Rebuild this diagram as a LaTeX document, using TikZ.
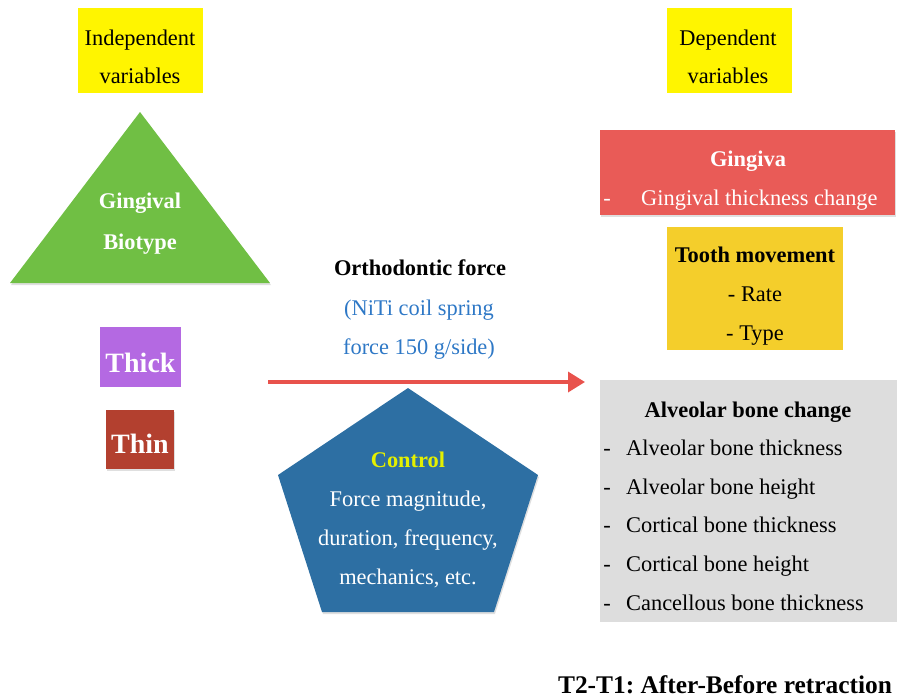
\documentclass[tikz,border=0pt]{standalone}
\usepackage{fontspec}
\setmainfont{Liberation Serif}
\usetikzlibrary{arrows.meta,shadows}
\frenchspacing
\definecolor{ybox}{HTML}{FFF500}
\definecolor{gtri}{HTML}{70BF44}
\definecolor{pthick}{HTML}{B469E2}
\definecolor{rthin}{HTML}{B3402F}
\definecolor{bluetxt}{HTML}{2E78C6}
\definecolor{redarrow}{HTML}{E8524C}
\definecolor{pent}{HTML}{2D6FA3}
\definecolor{ctrl}{HTML}{E4F000}
\definecolor{ging}{HTML}{E95B57}
\definecolor{tooth}{HTML}{F4CE2B}
\definecolor{greybox}{HTML}{DDDDDD}
\tikzset{
  txt/.style={inner sep=0pt, anchor=base, font=\fontsize{22.4}{22.4}\selectfont},
  btxt/.style={txt, font=\fontsize{22.4}{22.4}\selectfont\bfseries},
  ltxt/.style={txt, anchor=base west},
  boxr/.style={draw=none, inner sep=0pt, anchor=north west},
  shad/.style={drop shadow={opacity=0.25, shadow xshift=1pt, shadow yshift=-2pt}},
}
\begin{document}
\begin{tikzpicture}[x=1pt,y=-1pt]
\useasboundingbox (0,0) rectangle (898,697);
% boxes
\node[boxr, fill=ybox, minimum width=125pt, minimum height=85pt] (indepbox) at (78,8) {};
\node[boxr, fill=ybox, minimum width=125pt, minimum height=85pt] (depbox) at (667,8) {};
\fill[gtri, shad] (140,112) -- (270,283) -- (10,283) -- cycle;
\node[boxr, fill=pthick, minimum width=81pt, minimum height=60pt] (thickbox) at (100,327) {};
\node[boxr, fill=rthin, shad, minimum width=68pt, minimum height=59pt] (thinbox) at (106,410) {};
\fill[pent, shad] (408,388) -- (538,475) -- (494,612) -- (322,612) -- (278,475) -- cycle;
\node[boxr, fill=ging, shad, minimum width=295pt, minimum height=85pt] (gingbox) at (600,130) {};
\node[boxr, fill=tooth, minimum width=176pt, minimum height=123pt] (toothbox) at (667,227) {};
\node[boxr, fill=greybox, minimum width=297pt, minimum height=242pt] (alvbox) at (600,380) {};
% arrow
\coordinate (arrs) at (268,382);
\coordinate (arre) at (585,382);
\draw[redarrow, line width=3.5pt, -{Triangle[length=17pt,width=20pt]}] (arrs) -- (arre);
% texts
\node[txt] (t1) at (140,45) {Independent};
\node[txt] (t2) at (140,83) {variables};
\node[txt] (t3) at (728,45) {Dependent};
\node[txt] (t4) at (728,83) {variables};
\node[btxt, text=white] (t5) at (140,208) {Gingival};
\node[btxt, text=white] (t6) at (140,249) {Biotype};
\node[txt, font=\fontsize{28}{28}\selectfont\bfseries, text=white] (t7) at (140.5,372) {Thick};
\node[txt, font=\fontsize{28}{28}\selectfont\bfseries, text=white] (t8) at (140,453) {Thin};
\node[btxt] (t9) at (420,275) {Orthodontic force};
\node[txt, text=bluetxt] (t10) at (419,315) {(NiTi coil spring};
\node[txt, text=bluetxt] (t11) at (419,354) {force 150 g/side)};
\node[btxt, text=ctrl] (t12) at (408,467) {Control};
\node[txt, text=white] (t13) at (408,506) {Force magnitude,};
\node[txt, text=white] (t14) at (408,545) {duration, frequency,};
\node[txt, text=white] (t15) at (408,584) {mechanics, etc.};
\node[btxt, text=white] (t16) at (748,166) {Gingiva};
\node[txt, text=white] (t17) at (607,205) {-};
\node[ltxt, text=white] (t18) at (641,205) {Gingival thickness change};
\node[btxt] (t19) at (755,262) {Tooth movement};
\node[txt] (t20) at (755,301) {- Rate};
\node[txt] (t21) at (755,340) {- Type};
\node[btxt] (t22) at (748,417) {Alveolar bone change};
\node[txt] (d1) at (607,455) {-};
\node[ltxt] (t23) at (626,455) {Alveolar bone thickness};
\node[txt] (d2) at (607,494) {-};
\node[ltxt] (t24) at (626,494) {Alveolar bone height};
\node[txt] (d3) at (607,532) {-};
\node[ltxt] (t25) at (626,532) {Cortical bone thickness};
\node[txt] (d4) at (607,571) {-};
\node[ltxt] (t26) at (626,571) {Cortical bone height};
\node[txt] (d5) at (607,610) {-};
\node[ltxt] (t27) at (626,610) {Cancellous bone thickness};
\node[txt, font=\fontsize{25.4}{25.4}\selectfont\bfseries] (t28) at (725,693) {T2-T1: After-Before retraction};
\end{tikzpicture}
\end{document}
